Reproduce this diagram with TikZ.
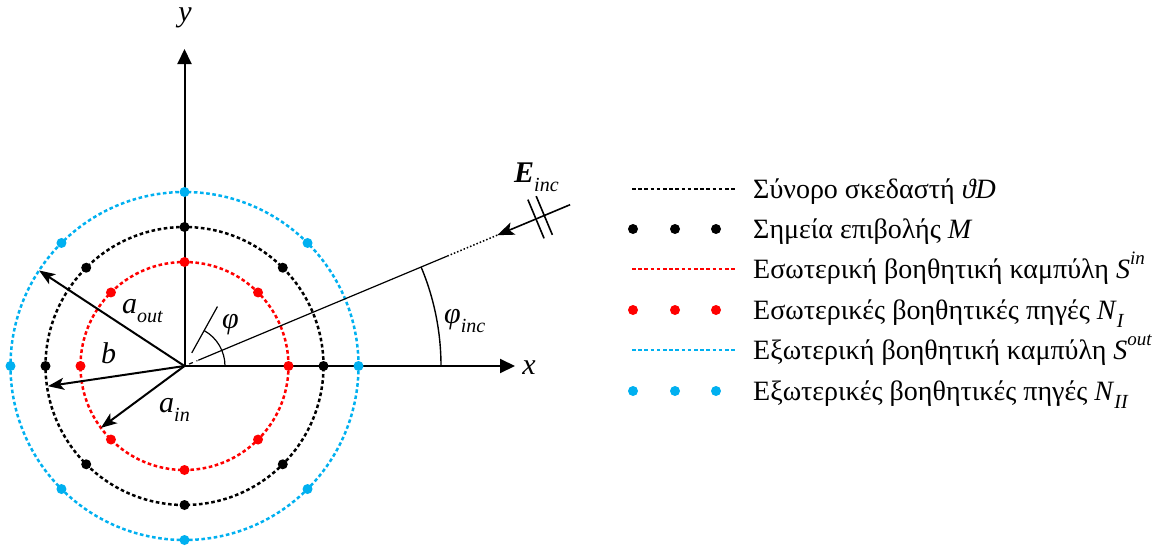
\documentclass[tikz,border=0pt]{standalone}
\usepackage{fontspec}
\setmainfont{Liberation Serif}
\usetikzlibrary{arrows.meta,calc}
\definecolor{cred}{RGB}{255,0,0}
\definecolor{cblue}{RGB}{0,176,240}
\newcommand\sbs[1]{\raisebox{-0.3em}{\fontsize{20}{20}\selectfont\itshape #1}}
\newcommand\sps[1]{\raisebox{0.5em}{\fontsize{19}{19}\selectfont\itshape #1}}
\begin{document}
\begin{tikzpicture}[x=1pt,y=1pt,
  axisline/.style={line width=2pt,-{Triangle[length=15pt,width=14pt]}},
  radarrow/.style={line width=2pt,-{Stealth[length=16pt,width=12pt,inset=4pt]}},
  thin line/.style={line width=1.2pt},
  circline/.style={line width=2.5pt,dash pattern=on 3.6pt off 2.6pt},
  dotm/.style={circle,fill,inner sep=0pt,minimum size=10pt},
  lbl/.style={font=\fontsize{30}{32}\selectfont\itshape,inner sep=0pt,anchor=base west},
  legtxt/.style={font=\fontsize{28}{32}\selectfont,inner sep=0pt,anchor=base west}
]
\useasboundingbox (0,0) rectangle (1165,-546);
\coordinate (O) at (184.5,-366);
% circles
\draw[circline,cblue] (O) circle[radius=174];
\draw[circline,black] (O) circle[radius=139];
\draw[circline,cred] (O) circle[radius=104];
% axes
\coordinate (ytip) at (184.5,-49);
\coordinate (xtip) at (515,-366);
\draw[axisline] (O) -- (ytip);
\draw[axisline] (O) -- (xtip);
\node[lbl,anchor=center] (ylab) at (185,-18) {y};
\node[lbl,anchor=center] (xlab) at (529,-368) {x};
% dots
\foreach \a in {0,45,...,315}{
  \node[dotm,cblue] (nb\a) at ($(O)+(\a:174)$) {};
  \node[dotm,black] (nk\a) at ($(O)+(\a:139)$) {};
  \node[dotm,cred] (nr\a) at ($(O)+(\a:104)$) {};
}
% radial arrows
\coordinate (tout) at ($(O)+(146.7:174)$);
\coordinate (tb) at ($(O)+(188.4:138)$);
\coordinate (tin) at ($(O)+(216.5:104)$);
\draw[radarrow] (O) -- (tout);
\draw[radarrow] (O) -- (tb);
\draw[radarrow] (O) -- (tin);
\node[lbl] (laout) at (122,-313) {a\sbs{out}};
\node[lbl] (lb) at (101,-363) {b};
\node[lbl] (lain) at (159,-412) {a\sbs{in}};
% phi marker
\coordinate (p1) at ($(O)+(61:15)$);
\coordinate (p2) at ($(O)+(61:68)$);
\draw[thin line] (p1) -- (p2);
\draw[thin line] ($(O)+(40.5,0)$) arc[start angle=0,end angle=61,radius=40.5];
\node[lbl] (lphi) at (222,-328) {φ};
% incident line
\coordinate (i1) at ($(O)+(22.7:15)$);
\coordinate (i2) at ($(O)+(22.7:285)$);
\coordinate (i3) at ($(O)+(22.7:339)$);
\coordinate (i4) at ($(O)+(22.7:418)$);
\draw[thin line,dash pattern=on 1pt off 4pt on 4pt off 4pt] (O) -- (i1);
\draw[thin line] (i1) -- (i2);
\draw[line width=1.5pt,dotted] (i2) -- (i3);
\draw[line width=1.6pt,-{Stealth[length=17pt,width=13pt,inset=4pt]}] (i4) -- (i3);
\foreach \r/\n in {381/ta,390/tb}{
  \coordinate (\n c) at ($(O)+(22.7:\r)$);
  \draw[line width=1.6pt] ($(\n c)+(-67.3:21)$) -- ($(\n c)+(112.7:21)$);
}
\node[lbl] (lE) at (514,-182) {\textbf{E}\sbs{inc}};
% phi_inc arc
\draw[line width=1.4pt] ($(O)+(256.5,0)$) arc[start angle=0,end angle=22.7,radius=256.5];
\node[lbl] (lphiinc) at (444,-323) {φ\sbs{inc}};
% legend
\def\lx{632}\def\rx{735}\def\tx{753}
\coordinate (l1a) at (\lx,-189); \coordinate (l1b) at (\rx,-189);
\draw[circline,line width=2.2pt,black] (l1a) -- (l1b);
\node[legtxt] (t1) at (\tx,-198) {Σύνορο σκεδαστή \textit{ϑD}};
\foreach \x in {633,675,716}{\node[dotm,black] (d2\x) at (\x,-229) {};}
\node[legtxt] (t2) at (\tx,-238) {Σημεία επιβολής \textit{M}};
\coordinate (l3a) at (\lx,-269); \coordinate (l3b) at (\rx,-269);
\draw[circline,line width=2.2pt,cred] (l3a) -- (l3b);
\node[legtxt] (t3) at (\tx,-278) {Εσωτερική βοηθητική καμπύλη \textit{S}\sps{in}};
\foreach \x in {633,675,716}{\node[dotm,cred] (d4\x) at (\x,-310) {};}
\node[legtxt] (t4) at (\tx,-319) {Εσωτερικές βοηθητικές πηγές \textit{N}\sbs{I}};
\coordinate (l5a) at (\lx,-350); \coordinate (l5b) at (\rx,-350);
\draw[circline,line width=2.2pt,cblue] (l5a) -- (l5b);
\node[legtxt] (t5) at (\tx,-359) {Εξωτερική βοηθητική καμπύλη \textit{S}\sps{out}};
\foreach \x in {633,675,716}{\node[dotm,cblue] (d6\x) at (\x,-391) {};}
\node[legtxt] (t6) at (\tx,-400) {Εξωτερικές βοηθητικές πηγές \textit{N}\sbs{II}};
\end{tikzpicture}
\end{document}
